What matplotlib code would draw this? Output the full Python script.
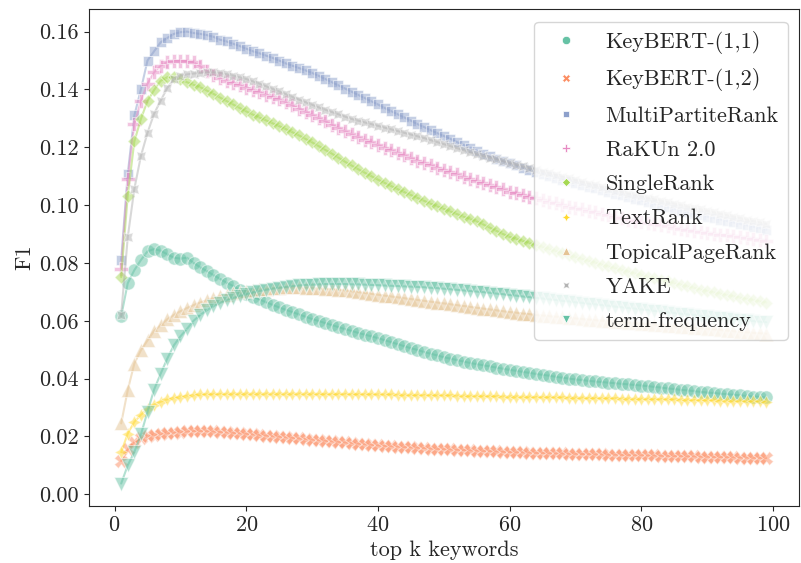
"""F1 at top-k keywords for several keyword extractors."""

import matplotlib

matplotlib.use("Agg")
import matplotlib.pyplot as plt
import seaborn as sns
from matplotlib.lines import Line2D

methods = [
    "KeyBERT-(1,1)",
    "KeyBERT-(1,2)",
    "MultiPartiteRank",
    "RaKUn 2.0",
    "SingleRank",
    "TextRank",
    "TopicalPageRank",
    "YAKE",
    "term-frequency",
]

top_k = list(range(1, 100))

keybert_11 = [
    0.0615, 0.0730, 0.0775, 0.0810, 0.0840, 0.0848, 0.0842, 0.0830, 0.0818, 0.0815,
    0.0818, 0.0800, 0.0785, 0.0772, 0.0758, 0.0745, 0.0732, 0.0720, 0.0707, 0.0693,
    0.0683, 0.0674, 0.0664, 0.0655, 0.0646, 0.0638, 0.0630, 0.0622, 0.0614, 0.0606,
    0.0599, 0.0592, 0.0585, 0.0578, 0.0571, 0.0565, 0.0558, 0.0552, 0.0546, 0.0540,
    0.0533, 0.0526, 0.0519, 0.0512, 0.0505, 0.0499, 0.0492, 0.0486, 0.0480, 0.0474,
    0.0469, 0.0464, 0.0459, 0.0454, 0.0450, 0.0446, 0.0442, 0.0438, 0.0434, 0.0430,
    0.0427, 0.0423, 0.0420, 0.0416, 0.0413, 0.0410, 0.0406, 0.0403, 0.0400, 0.0397,
    0.0395, 0.0392, 0.0390, 0.0388, 0.0386, 0.0384, 0.0382, 0.0380, 0.0378, 0.0376,
    0.0374, 0.0371, 0.0369, 0.0366, 0.0364, 0.0361, 0.0359, 0.0357, 0.0354, 0.0352,
    0.0350, 0.0348, 0.0346, 0.0344, 0.0342, 0.0340, 0.0338, 0.0337, 0.0335,
]
keybert_12 = [
    0.0115, 0.0155, 0.0180, 0.0193, 0.0200, 0.0205, 0.0208, 0.0211, 0.0213, 0.0215,
    0.0217, 0.0219, 0.0219, 0.0218, 0.0217, 0.0215, 0.0214, 0.0212, 0.0211, 0.0209,
    0.0207, 0.0205, 0.0203, 0.0201, 0.0199, 0.0197, 0.0195, 0.0193, 0.0191, 0.0189,
    0.0187, 0.0185, 0.0183, 0.0181, 0.0179, 0.0177, 0.0175, 0.0173, 0.0171, 0.0169,
    0.0167, 0.0166, 0.0165, 0.0163, 0.0162, 0.0161, 0.0160, 0.0158, 0.0157, 0.0156,
    0.0155, 0.0154, 0.0153, 0.0152, 0.0151, 0.0150, 0.0149, 0.0148, 0.0147, 0.0146,
    0.0145, 0.0145, 0.0144, 0.0143, 0.0143, 0.0142, 0.0141, 0.0141, 0.0140, 0.0140,
    0.0139, 0.0139, 0.0138, 0.0138, 0.0137, 0.0137, 0.0136, 0.0136, 0.0135, 0.0135,
    0.0134, 0.0134, 0.0133, 0.0133, 0.0132, 0.0132, 0.0131, 0.0131, 0.0130, 0.0130,
    0.0129, 0.0129, 0.0128, 0.0128, 0.0127, 0.0127, 0.0126, 0.0126, 0.0125,
]
multipartite = [
    0.0810, 0.1108, 0.1310, 0.1400, 0.1500, 0.1532, 0.1563, 0.1578, 0.1592, 0.1598,
    0.1600, 0.1595, 0.1592, 0.1588, 0.1582, 0.1572, 0.1566, 0.1558, 0.1550, 0.1541,
    0.1532, 0.1525, 0.1517, 0.1509, 0.1500, 0.1490, 0.1482, 0.1474, 0.1466, 0.1457,
    0.1447, 0.1436, 0.1425, 0.1414, 0.1403, 0.1392, 0.1381, 0.1370, 0.1359, 0.1348,
    0.1336, 0.1325, 0.1314, 0.1303, 0.1292, 0.1280, 0.1270, 0.1259, 0.1249, 0.1239,
    0.1229, 0.1218, 0.1208, 0.1198, 0.1188, 0.1178, 0.1169, 0.1160, 0.1152, 0.1144,
    0.1137, 0.1130, 0.1123, 0.1116, 0.1109, 0.1102, 0.1095, 0.1088, 0.1082, 0.1076,
    0.1070, 0.1064, 0.1058, 0.1052, 0.1046, 0.1040, 0.1034, 0.1028, 0.1022, 0.1016,
    0.1010, 0.1004, 0.0998, 0.0992, 0.0987, 0.0981, 0.0976, 0.0970, 0.0965, 0.0960,
    0.0955, 0.0950, 0.0945, 0.0940, 0.0935, 0.0930, 0.0925, 0.0920, 0.0915,
]
rakun = [
    0.0780, 0.1090, 0.1280, 0.1360, 0.1420, 0.1459, 0.1482, 0.1495, 0.1500, 0.1500,
    0.1498, 0.1494, 0.1480, 0.1465, 0.1450, 0.1438, 0.1430, 0.1422, 0.1414, 0.1406,
    0.1398, 0.1390, 0.1382, 0.1374, 0.1366, 0.1356, 0.1345, 0.1334, 0.1323, 0.1312,
    0.1301, 0.1290, 0.1278, 0.1267, 0.1256, 0.1245, 0.1235, 0.1226, 0.1217, 0.1208,
    0.1199, 0.1190, 0.1181, 0.1172, 0.1163, 0.1154, 0.1146, 0.1138, 0.1130, 0.1122,
    0.1114, 0.1106, 0.1098, 0.1090, 0.1082, 0.1075, 0.1068, 0.1061, 0.1054, 0.1047,
    0.1041, 0.1035, 0.1029, 0.1023, 0.1017, 0.1011, 0.1006, 0.1000, 0.0995, 0.0990,
    0.0985, 0.0980, 0.0975, 0.0970, 0.0965, 0.0960, 0.0955, 0.0950, 0.0946, 0.0942,
    0.0938, 0.0934, 0.0930, 0.0926, 0.0922, 0.0918, 0.0914, 0.0910, 0.0907, 0.0904,
    0.0901, 0.0898, 0.0895, 0.0892, 0.0889, 0.0886, 0.0883, 0.0880, 0.0877,
]
single_rank = [
    0.0751, 0.1033, 0.1220, 0.1298, 0.1360, 0.1398, 0.1430, 0.1442, 0.1442, 0.1436,
    0.1425, 0.1416, 0.1408, 0.1396, 0.1385, 0.1372, 0.1360, 0.1348, 0.1336, 0.1324,
    0.1313, 0.1303, 0.1293, 0.1283, 0.1273, 0.1263, 0.1252, 0.1241, 0.1229, 0.1217,
    0.1204, 0.1191, 0.1178, 0.1164, 0.1150, 0.1137, 0.1124, 0.1112, 0.1100, 0.1088,
    0.1077, 0.1066, 0.1055, 0.1045, 0.1035, 0.1025, 0.1015, 0.1005, 0.0996, 0.0987,
    0.0978, 0.0969, 0.0960, 0.0952, 0.0944, 0.0933, 0.0922, 0.0911, 0.0900, 0.0890,
    0.0883, 0.0876, 0.0869, 0.0862, 0.0855, 0.0848, 0.0841, 0.0834, 0.0827, 0.0820,
    0.0814, 0.0807, 0.0801, 0.0794, 0.0788, 0.0782, 0.0776, 0.0770, 0.0764, 0.0758,
    0.0752, 0.0747, 0.0741, 0.0736, 0.0730, 0.0725, 0.0719, 0.0714, 0.0708, 0.0703,
    0.0698, 0.0694, 0.0689, 0.0685, 0.0680, 0.0676, 0.0672, 0.0667, 0.0663,
]
text_rank = [
    0.0145, 0.0210, 0.0250, 0.0275, 0.0295, 0.0310, 0.0320, 0.0328, 0.0334, 0.0338,
    0.0341, 0.0343, 0.0345, 0.0346, 0.0347, 0.0347, 0.0347, 0.0348, 0.0348, 0.0348,
    0.0348, 0.0348, 0.0348, 0.0348, 0.0348, 0.0348, 0.0348, 0.0348, 0.0348, 0.0348,
    0.0347, 0.0347, 0.0347, 0.0347, 0.0347, 0.0346, 0.0346, 0.0346, 0.0346, 0.0345,
    0.0345, 0.0345, 0.0344, 0.0344, 0.0344, 0.0343, 0.0343, 0.0343, 0.0342, 0.0342,
    0.0342, 0.0341, 0.0341, 0.0340, 0.0340, 0.0340, 0.0339, 0.0339, 0.0338, 0.0338,
    0.0338, 0.0337, 0.0337, 0.0336, 0.0336, 0.0336, 0.0335, 0.0335, 0.0334, 0.0334,
    0.0334, 0.0333, 0.0333, 0.0332, 0.0332, 0.0332, 0.0331, 0.0331, 0.0330, 0.0330,
    0.0330, 0.0329, 0.0329, 0.0328, 0.0328, 0.0327, 0.0327, 0.0326, 0.0326, 0.0325,
    0.0325, 0.0324, 0.0324, 0.0323, 0.0323, 0.0322, 0.0322, 0.0321, 0.0320,
]
topical_pagerank = [
    0.0245, 0.0360, 0.0452, 0.0498, 0.0532, 0.0565, 0.0585, 0.0605, 0.0620, 0.0633,
    0.0644, 0.0654, 0.0663, 0.0671, 0.0678, 0.0684, 0.0690, 0.0695, 0.0699, 0.0703,
    0.0706, 0.0709, 0.0711, 0.0713, 0.0714, 0.0715, 0.0715, 0.0715, 0.0714, 0.0713,
    0.0712, 0.0711, 0.0709, 0.0707, 0.0705, 0.0702, 0.0699, 0.0696, 0.0693, 0.0690,
    0.0687, 0.0684, 0.0681, 0.0678, 0.0675, 0.0672, 0.0669, 0.0666, 0.0663, 0.0660,
    0.0657, 0.0654, 0.0651, 0.0648, 0.0645, 0.0642, 0.0639, 0.0636, 0.0633, 0.0630,
    0.0628, 0.0625, 0.0623, 0.0620, 0.0618, 0.0616, 0.0614, 0.0612, 0.0610, 0.0608,
    0.0606, 0.0604, 0.0602, 0.0600, 0.0599, 0.0597, 0.0595, 0.0593, 0.0592, 0.0590,
    0.0588, 0.0586, 0.0584, 0.0582, 0.0581, 0.0579, 0.0577, 0.0575, 0.0574, 0.0572,
    0.0570, 0.0568, 0.0566, 0.0564, 0.0562, 0.0560, 0.0558, 0.0557, 0.0555,
]
yake = [
    0.0620, 0.0889, 0.1056, 0.1170, 0.1250, 0.1316, 0.1361, 0.1405, 0.1436, 0.1448,
    0.1452, 0.1455, 0.1457, 0.1459, 0.1459, 0.1457, 0.1453, 0.1448, 0.1442, 0.1436,
    0.1428, 0.1420, 0.1411, 0.1402, 0.1393, 0.1384, 0.1374, 0.1365, 0.1356, 0.1347,
    0.1338, 0.1330, 0.1322, 0.1314, 0.1306, 0.1298, 0.1292, 0.1286, 0.1280, 0.1274,
    0.1268, 0.1262, 0.1256, 0.1250, 0.1244, 0.1238, 0.1232, 0.1225, 0.1218, 0.1211,
    0.1204, 0.1197, 0.1190, 0.1183, 0.1176, 0.1170, 0.1164, 0.1158, 0.1152, 0.1146,
    0.1140, 0.1134, 0.1128, 0.1122, 0.1116, 0.1110, 0.1104, 0.1098, 0.1092, 0.1086,
    0.1080, 0.1074, 0.1068, 0.1062, 0.1056, 0.1050, 0.1045, 0.1040, 0.1035, 0.1030,
    0.1025, 0.1020, 0.1015, 0.1010, 0.1005, 0.1000, 0.0995, 0.0990, 0.0985, 0.0980,
    0.0975, 0.0970, 0.0965, 0.0960, 0.0955, 0.0950, 0.0945, 0.0940, 0.0935,
]
term_frequency = [
    0.0037, 0.0100, 0.0146, 0.0207, 0.0285, 0.0362, 0.0417, 0.0469, 0.0515, 0.0546,
    0.0572, 0.0600, 0.0620, 0.0636, 0.0650, 0.0662, 0.0671, 0.0679, 0.0686, 0.0692,
    0.0698, 0.0703, 0.0707, 0.0711, 0.0714, 0.0717, 0.0720, 0.0722, 0.0724, 0.0725,
    0.0726, 0.0727, 0.0727, 0.0727, 0.0727, 0.0726, 0.0726, 0.0725, 0.0724, 0.0723,
    0.0722, 0.0721, 0.0720, 0.0719, 0.0718, 0.0717, 0.0716, 0.0714, 0.0713, 0.0711,
    0.0709, 0.0707, 0.0705, 0.0703, 0.0701, 0.0699, 0.0697, 0.0694, 0.0692, 0.0689,
    0.0687, 0.0684, 0.0682, 0.0679, 0.0677, 0.0674, 0.0672, 0.0669, 0.0667, 0.0664,
    0.0662, 0.0659, 0.0657, 0.0654, 0.0652, 0.0649, 0.0647, 0.0644, 0.0642, 0.0639,
    0.0637, 0.0634, 0.0632, 0.0629, 0.0627, 0.0624, 0.0622, 0.0620, 0.0617, 0.0615,
    0.0613, 0.0610, 0.0608, 0.0606, 0.0604, 0.0601, 0.0599, 0.0597, 0.0595,
]

scores = [
    keybert_11, keybert_12, multipartite, rakun, single_rank,
    text_rank, topical_pagerank, yake, term_frequency,
]

# seaborn's default marker cycle
markers = ["o", "X", (4, 0, 45), "P", (4, 0, 0), (4, 1, 0), "^", (4, 1, 45), "v"]


def main() -> None:
    sns.set_style("ticks")
    plt.rcParams["font.family"] = "serif"
    plt.rcParams["font.serif"] = ["cmr10", "DejaVu Serif"]
    plt.rcParams["mathtext.fontset"] = "cm"
    plt.rcParams["axes.formatter.use_mathtext"] = True
    plt.rcParams["font.size"] = 16

    colors = sns.color_palette("Set2", 8)
    colors = [colors[i % 8] for i in range(len(methods))]

    fig = plt.figure(figsize=(8.01, 5.63), dpi=100)
    ax = fig.add_axes([0.111, 0.101, 0.886, 0.883])

    for name, vals, c, m in zip(methods, scores, colors, markers):
        ax.plot(top_k, vals, color=c, marker=m, markersize=9.5, lw=1.5,
                mec="w", mew=0.75, alpha=0.5, label=name)

    handles = [
        Line2D([], [], color=c, marker=m, linestyle="", markersize=6, mec="w", mew=0.5)
        for c, m in zip(colors, markers)
    ]
    ax.legend(handles, methods, loc="upper right", bbox_to_anchor=(0.9845, 0.974),
              borderaxespad=0, labelspacing=0.66, fontsize=16)

    ax.set_xlabel("top k keywords", fontsize=16)
    ax.set_ylabel("F1", fontsize=16)
    ax.tick_params(labelsize=16)
    ax.set_xticks([0, 20, 40, 60, 80, 100])
    ax.set_yticks([0.0, 0.02, 0.04, 0.06, 0.08, 0.10, 0.12, 0.14, 0.16])
    ax.set_yticklabels([f"{v:.2f}" for v in ax.get_yticks()])

    fig.savefig("out.png", dpi=100)
    plt.close(fig)


if __name__ == "__main__":
    main()
